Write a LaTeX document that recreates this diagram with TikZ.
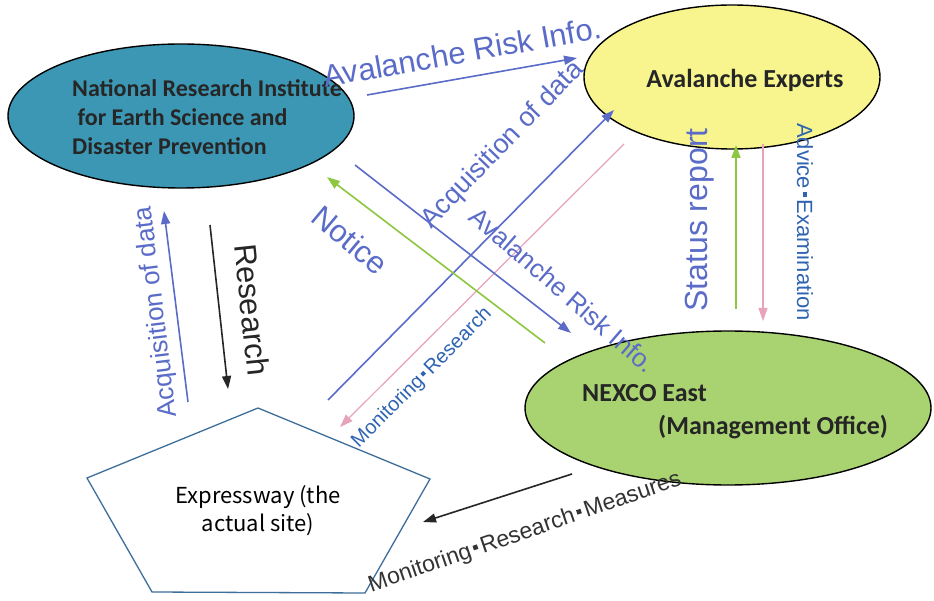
\documentclass[tikz,border=0pt]{standalone}
\usepackage{fontspec}
\setmainfont{Liberation Sans}
\newfontfamily\calibri{Carlito}
\newfontfamily\jpfont{Noto Sans CJK JP}
\usepackage{tikz}
\usetikzlibrary{arrows.meta, shapes.geometric, positioning}

\definecolor{niedblue}{HTML}{3C97B4}
\definecolor{expyellow}{HTML}{F8F58E}
\definecolor{nexgreen}{HTML}{A9D370}
\definecolor{flowblue}{HTML}{5A6CC8}
\definecolor{darkblue}{HTML}{2F64B2}
\definecolor{flowgreen}{HTML}{8DC63F}
\definecolor{flowpink}{HTML}{E8A3BC}
\definecolor{siteblue}{HTML}{3E6E9A}

\newcommand{\jdot}{\kern0.14em\raisebox{0.27em}{\rule{0.2em}{0.2em}}\kern0.14em}

\begin{document}
\begin{tikzpicture}[x=1pt,y=-1pt,
  flow/.style={line width=1.6pt,-{Triangle[length=13pt,width=9pt]}},
  party/.style={ellipse,draw,line width=1.4pt,inner sep=0pt},
  partytext/.style={font=\calibri\bfseries\fontsize{26}{30}\selectfont,text=black!85,inner sep=0pt},
  biglabel/.style={font=\fontsize{31}{31}\selectfont,text=flowblue,inner sep=0pt},
  midlabel/.style={font=\fontsize{26}{26}\selectfont,text=flowblue,inner sep=0pt},
  smalllabel/.style={font=\fontsize{20}{20}\selectfont,text=darkblue,inner sep=0pt}]
\useasboundingbox (0,0) rectangle (934,601);
\fill[white] (0,0) rectangle (934,601);

% Parties
\node[party,fill=niedblue,minimum width=346pt,minimum height=144pt] (nied) at (181,116) {};
\node[partytext,font=\calibri\bfseries\fontsize{24}{29}\selectfont,anchor=west,align=left] (niedtext) at (72,117)
  {National Research Institute\\\ for Earth Science and\\Disaster Prevention};
\node[party,fill=expyellow,minimum width=296pt,minimum height=144pt] (experts) at (732,77) {};
\node[partytext] (expertstext) at (745,80) {Avalanche Experts};
\node[party,fill=nexgreen,minimum width=406pt,minimum height=154pt] (nexco) at (728,408) {};
\node[partytext,anchor=west] (nexcotext) at (582,393) {NEXCO East};
\node[partytext,anchor=west] (officetext) at (658,427) {(Management Office)};

% The site
\draw[siteblue,line width=1.3pt] (258,408) -- (430,479) -- (365,593) -- (152,592) -- (87,478) -- cycle;
\node[font=\jpfont\fontsize{22}{28}\selectfont,align=center,inner sep=0pt] (site) at (258,511)
  {Expressway (the\\actual site)};

% Ends of the connectors
\coordinate (riskA) at (367,95);   \coordinate (riskB) at (577,58);
\coordinate (acqA) at (328,400);   \coordinate (acqB) at (614,110);
\coordinate (monA) at (624,144);   \coordinate (monB) at (340,427);
\coordinate (warnA) at (355,165);  \coordinate (warnB) at (571,333);
\coordinate (noteA) at (545,343);  \coordinate (noteB) at (327,177);
\coordinate (statA) at (736,309);  \coordinate (statB) at (736,145);
\coordinate (advA) at (763,144);   \coordinate (advB) at (763,321);
\coordinate (dataA) at (188,402);  \coordinate (dataB) at (164,211);
\coordinate (resA) at (210,225);   \coordinate (resB) at (228,389);
\coordinate (measA) at (572,474);  \coordinate (measB) at (423,522);

% Connectors
\draw[flow,flowblue] (riskA) -- (riskB);
\draw[flow,flowblue] (acqA) -- (acqB);
\draw[flow,flowpink,line width=1.2pt] (monA) -- (monB);
\draw[flow,flowblue] (warnA) -- (warnB);
\draw[flow,flowgreen] (noteA) -- (noteB);
\draw[flow,flowgreen] (statA) -- (statB);
\draw[flow,flowpink,line width=1.2pt] (advA) -- (advB);
\draw[flow,flowblue] (dataA) -- (dataB);
\draw[flow,black!85] (resA) -- (resB);
\draw[flow,black!85] (measA) -- (measB);

% Labels
\node[biglabel,rotate=10] (risklbl) at (462,52) {Avalanche Risk Info.};
\node[midlabel,font=\fontsize{27}{27}\selectfont,rotate=46] (acqlbl) at (503,145) {Acquisition of data};
\node[biglabel,rotate=-40] (notelbl) at (350,240) {Notice};
\node[midlabel,rotate=-41] (warnlbl) at (563,290) {Avalanche Risk Info.};
\node[smalllabel,rotate=45] (monlbl) at (422,378) {Monitoring\jdot Research};
\node[biglabel,font=\fontsize{32}{32}\selectfont,rotate=90] (statlbl) at (700,220) {Status report};
\node[smalllabel,font=\fontsize{22}{22}\selectfont,rotate=-90] (advlbl) at (805,222) {Advice\jdot Examination};
\node[midlabel,rotate=97] (datalbl) at (157,312) {Acquisition of data};
\node[biglabel,text=black!85,rotate=-84] (reslbl) at (252,310) {Research};
\node[font=\fontsize{23}{23}\selectfont,text=black!80,inner sep=0pt,rotate=19] (measlbl) at (525,533)
  {Monitoring\jdot Research\jdot Measures};
\end{tikzpicture}
\end{document}
